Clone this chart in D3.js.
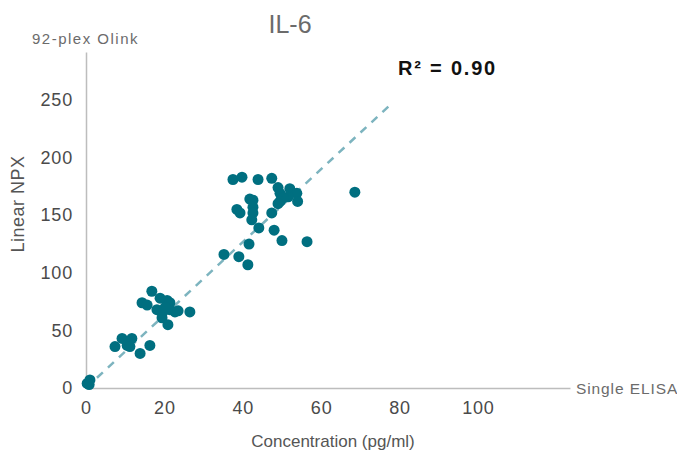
<!DOCTYPE html>
<html>
<head>
<meta charset="utf-8">
<script src="https://cdn.jsdelivr.net/npm/d3@7"></script>
<style>
  body { margin: 0; background: #fff; }
  svg { font-family: "Liberation Sans", Arial, sans-serif; }
</style>
</head>
<body>
<svg id="chart" width="677" height="457"></svg>
<script>
// ELISA concentration (pg/ml) vs Olink linear NPX
const elisa = [
  0.3, 1, 0.8,
  7.4, 9.2, 10.5, 11.7, 11.2, 13.8, 16.3,
  16.8, 14.3, 15.6, 18.9, 20.7, 21.4, 18.1, 19.6, 21.4, 22.7, 19.4, 20.9, 26.5, 20.2, 23.5,
  37.5, 39.8, 43.9, 47.4, 49, 49.5, 52, 53.8, 51.6, 50.3, 49.5, 54, 49, 41.8, 42.6, 42.6,
  42.6, 38.5, 39.3, 42.3, 47.4, 44.1, 48, 41.6, 50, 56.4, 35.2, 39, 41.3, 68.6
];
const npx = [
  4, 7, 3,
  36, 43, 37, 43, 36, 30, 37,
  84, 74, 72, 78, 76, 74, 68, 66, 68, 66, 61, 55, 66, 70, 67,
  181, 183, 181, 182, 174, 169, 173, 169, 166, 165, 162, 162, 160, 164, 163, 157,
  152, 155, 152, 146, 152, 139, 137, 125, 128, 127, 116, 114, 107, 170
];
const xTicks = [0, 20, 40, 60, 80, 100];
const yTicks = [0, 50, 100, 150, 200, 250];
const fitLine = [[0, 0], [78, 247]];

const svg = d3.select("#chart");

const x = d3.scaleLinear().domain([0, 123.5]).range([86, 570]);
const y = d3.scaleLinear().domain([0, 291.7]).range([388, 52]);

// axes
svg.append("g")
  .attr("transform", "translate(0," + y(0) + ")")
  .call(d3.axisBottom(x).tickValues(xTicks).tickSize(0).tickPadding(13))
  .call(function (g) {
    g.select(".domain").attr("stroke", "#bdbdbd").attr("stroke-width", 1.5);
    g.selectAll("text").attr("fill", "#4a4a4a").attr("font-size", 18).attr("letter-spacing", 0.8);
  });

svg.append("g")
  .attr("transform", "translate(" + x(0) + ",0)")
  .call(d3.axisLeft(y).tickValues(yTicks).tickSize(0).tickPadding(13))
  .call(function (g) {
    g.select(".domain").attr("stroke", "#bdbdbd").attr("stroke-width", 1.5);
    g.selectAll("text").attr("fill", "#4a4a4a").attr("font-size", 18).attr("letter-spacing", 0.8);
  });

// regression line
svg.append("line")
  .attr("x1", x(fitLine[0][0])).attr("y1", y(fitLine[0][1]))
  .attr("x2", x(fitLine[1][0])).attr("y2", y(fitLine[1][1]))
  .attr("stroke", "#7db4bf")
  .attr("stroke-width", 2.5)
  .attr("stroke-dasharray", "8,7");

// points
svg.selectAll(".dot")
  .data(elisa)
  .enter()
  .append("circle")
  .attr("class", "dot")
  .attr("cx", function (d) { return x(d); })
  .attr("cy", function (d, i) { return y(npx[i]); })
  .attr("r", 5.5)
  .attr("fill", "#006f80");

// labels
svg.append("text")
  .attr("x", 290).attr("y", 33)
  .attr("text-anchor", "middle")
  .attr("font-size", 25)
  .attr("fill", "#6b6b6b")
  .text("IL-6");

svg.append("text")
  .attr("x", 32).attr("y", 44)
  .attr("font-size", 15)
  .attr("letter-spacing", 1.5)
  .attr("fill", "#6b6b6b")
  .text("92-plex Olink");

svg.append("text")
  .attr("x", 576).attr("y", 394)
  .attr("font-size", 15.5)
  .attr("letter-spacing", 0.9)
  .attr("fill", "#6b6b6b")
  .text("Single ELISA");

svg.append("text")
  .attr("x", 398).attr("y", 75)
  .attr("font-size", 20)
  .attr("font-weight", "bold")
  .attr("letter-spacing", 1.8)
  .attr("fill", "#111")
  .text("R² = 0.90");

svg.append("text")
  .attr("transform", "translate(24,204) rotate(-90)")
  .attr("text-anchor", "middle")
  .attr("font-size", 18)
  .attr("letter-spacing", 0.5)
  .attr("fill", "#555")
  .text("Linear NPX");

svg.append("text")
  .attr("x", 333).attr("y", 447)
  .attr("text-anchor", "middle")
  .attr("font-size", 17)
  .attr("fill", "#555")
  .text("Concentration (pg/ml)");
</script>
</body>
</html>
